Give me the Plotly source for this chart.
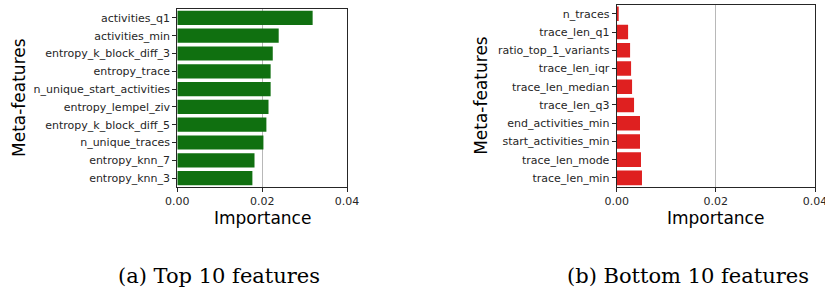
import plotly.graph_objects as go

W, H = 825, 291

top_features = ["activities_q1", "activities_min", "entropy_k_block_diff_3", "entropy_trace",
                "n_unique_start_activities", "entropy_lempel_ziv", "entropy_k_block_diff_5",
                "n_unique_traces", "entropy_knn_7", "entropy_knn_3"]
top_values = [0.0319, 0.0239, 0.0225, 0.0220, 0.0220, 0.0215, 0.0210, 0.0203, 0.0182, 0.0177]

bottom_features = ["n_traces", "trace_len_q1", "ratio_top_1_variants", "trace_len_iqr",
                   "trace_len_median", "trace_len_q3", "end_activities_min",
                   "start_activities_min", "trace_len_mode", "trace_len_min"]
bottom_values = [0.0004, 0.0023, 0.0027, 0.0029, 0.0031, 0.0035, 0.0047, 0.0047, 0.0049, 0.0051]

x_ticks = [0.00, 0.02, 0.04]
x_tick_text = ["0.00", "0.02", "0.04"]
captions = ["(a) Top 10 features", "(b) Bottom 10 features"]

GREEN = "#107010"
RED = "#df2020"

# panel geometry in window pixels
L = dict(x0=177.3, x1=347.0, y0=9.0, y1=187.0)
R = dict(x0=616.7, x1=815.0, y0=4.7, y1=187.0)

def fx(px):
    return px / W

def fy(py):
    return 1 - py / H

def dom_x(p):
    return [fx(p["x0"]), fx(p["x1"])]

def dom_y(p):
    return [fy(p["y1"]), fy(p["y0"])]

fig = go.Figure()
fig.add_trace(go.Bar(x=top_values, y=top_features, orientation="h", marker_color=GREEN,
                     marker_line_width=0, width=0.8, xaxis="x", yaxis="y"))
fig.add_trace(go.Bar(x=bottom_values, y=bottom_features, orientation="h", marker_color=RED,
                     marker_line_width=0, width=0.8, xaxis="x2", yaxis="y2"))

tickfont = dict(family="DejaVu Sans", size=11, color="#262626")
xcommon = dict(range=[0, 0.04], tickvals=x_ticks, ticktext=x_tick_text, showgrid=True,
               gridcolor="rgba(176,176,176,0.9)", gridwidth=1, zeroline=False,
               showline=True, linecolor="#262626", linewidth=1.2, mirror=True,
               ticks="outside", ticklen=4, tickwidth=1, tickcolor="#262626",
               tickfont=tickfont, layer="above traces", fixedrange=True, automargin=False,
               ticklabeloverflow="allow")
ycommon = dict(type="category", range=[9.5, -0.5], showgrid=False, zeroline=False,
               showline=True, linecolor="#262626", linewidth=1.2, mirror=True,
               ticks="outside", ticklen=4, tickwidth=1, tickcolor="#262626",
               tickfont=tickfont, layer="above traces", fixedrange=True, automargin=False,
               ticklabeloverflow="allow")

fig.update_layout(
    width=W, height=H, autosize=False,
    margin=dict(l=0, r=0, t=0, b=0, pad=0, autoexpand=False),
    paper_bgcolor="white", plot_bgcolor="white",
    showlegend=False, bargap=0.2,
    xaxis=dict(domain=dom_x(L), anchor="y", **xcommon),
    yaxis=dict(domain=dom_y(L), anchor="x", categoryorder="array",
               categoryarray=top_features, **ycommon),
    xaxis2=dict(domain=dom_x(R), anchor="y2", **xcommon),
    yaxis2=dict(domain=dom_y(R), anchor="x2", categoryorder="array",
                categoryarray=bottom_features, **ycommon),
)

titlefont = dict(family="DejaVu Sans", size=17, color="black")
capfont = dict(family="DejaVu Serif", size=21, color="black")
ann = []
for p, yx in ((L, 19.0), (R, 481.0)):
    ann.append(dict(text="Importance", x=fx((p["x0"] + p["x1"]) / 2), y=fy(218),
                    xref="paper", yref="paper", showarrow=False, font=titlefont,
                    xanchor="center", yanchor="middle"))
    ann.append(dict(text="Meta-features", x=fx(yx), y=fy((p["y0"] + p["y1"]) / 2),
                    xref="paper", yref="paper", showarrow=False, font=titlefont,
                    textangle=-90, xanchor="center", yanchor="middle"))
for cx, txt in zip((218.5, 687.5), captions):
    ann.append(dict(text=txt, x=fx(cx), y=fy(276), xref="paper", yref="paper",
                    showarrow=False, font=capfont, xanchor="center", yanchor="middle"))
fig.update_layout(annotations=ann)

# remove the browser's default 8px body margin so the figure starts at the window corner
fig.write_html("out.html", config={"displayModeBar": False},
               post_script="document.body.style.margin='0';document.body.style.padding='0';")
